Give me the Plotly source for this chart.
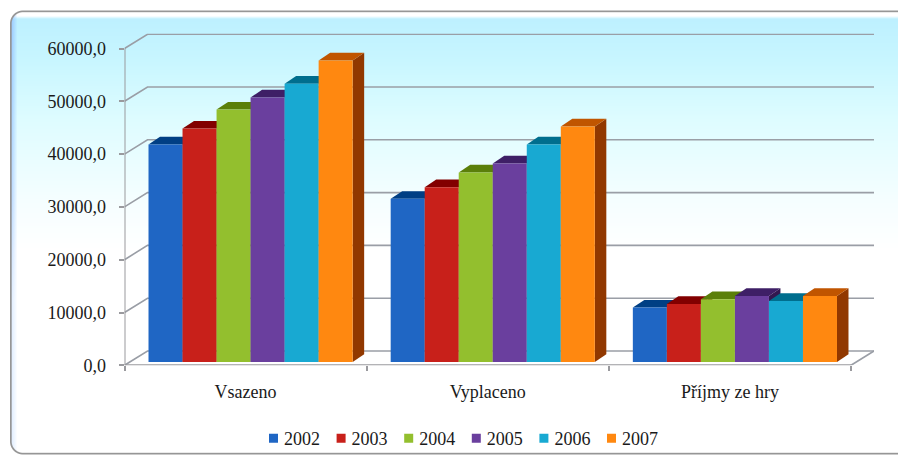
import base64, struct, zlib
import numpy as np
import plotly.graph_objects as go

categories = ["Vsazeno", "Vyplaceno", "Příjmy ze hry"]
years = ["2002", "2003", "2004", "2005", "2006", "2007"]
v2002 = [41200, 30900, 10300]
v2003 = [44200, 33100, 11000]
v2004 = [47800, 35900, 11900]
v2005 = [50100, 37600, 12500]
v2006 = [52700, 41200, 11550]
v2007 = [57100, 44600, 12500]
series = [v2002, v2003, v2004, v2005, v2006, v2007]
y_ticks = [0, 10000, 20000, 30000, 40000, 50000, 60000]
front = ["#1F66C4", "#C8201A", "#93BF2E", "#6A3F9E", "#18A9D2", "#FF8810"]
top = ["#003F84", "#820000", "#5B7F0A", "#3E1F66", "#006E8E", "#C05500"]
side = ["#003070", "#6E0000", "#4A6A05", "#321850", "#005A75", "#913800"]

W, H = 898, 456
L, R, T, B = 124.5, 874.0, 33.5, 365.3      # plot area on the page
PX_X = (851.0 - 124.5) / 3                  # pixels per category
PX_Y = (365.3 - 48.5) / 60000               # pixels per value unit
xmax = (R - L) / PX_X
ymax = (B - T) / PX_Y
wall_dx, wall_dy = (R - 851.0) / PX_X, (B - 351.0) / PX_Y
bar_dx, bar_dy = 11.5 / PX_X, 7.7 / PX_Y
shift_x, shift_y = 5.0 / PX_X, 3.3 / PX_Y   # bars stand inside the floor
bargap = 0.157
bar_w = (1 - bargap) / len(series)


def panel_png():
    yy, xx = np.mgrid[0:H, 0:W].astype(float)
    stops_y = [0, 18, 60, 120, 200, 250, 456]
    r = np.interp(yy, stops_y, [189, 189, 200, 222, 245, 255, 255])
    g = np.interp(yy, stops_y, [240, 240, 246, 252, 254, 255, 255])
    b = np.full_like(yy, 255.0)
    # bright bevel along the top
    band = np.clip((18.5 - yy) / 3, 0, 1)
    r, g = r + (255 - r) * band, g + (255 - g) * band
    # blue shade along the left edge
    edge = np.clip((17 - xx) / 7, 0, 1) * np.interp(yy, [10, 200, 300], [1, .75, .35])
    r = r + (150 - r) * edge * (yy > 14)
    g = g + (195 - g) * edge * (yy > 14)
    # rounded rectangle with grey rim; it runs off the right edge
    x0, y0, x1, y1, rad = 9.5, 10.0, 915.0, 454.0, 13.0
    qx = np.abs(xx - (x0 + x1) / 2) - ((x1 - x0) / 2 - rad)
    qy = np.abs(yy - (y0 + y1) / 2) - ((y1 - y0) / 2 - rad)
    d = np.hypot(np.maximum(qx, 0), np.maximum(qy, 0)) + np.minimum(np.maximum(qx, qy), 0) - rad
    rim = np.clip(d + 2.2, 0, 1)
    r, g, b = [c + (150 - c) * rim for c in (r, g, b)]
    alpha = np.clip(0.5 - d, 0, 1) * 255
    img = np.dstack([r, g, b, alpha]).round().astype(np.uint8)
    raw = b"".join(b"\x00" + img[i].tobytes() for i in range(H))

    def chunk(tag, data):
        return struct.pack(">I", len(data)) + tag + data + struct.pack(">I", zlib.crc32(tag + data))
    png = b"\x89PNG\r\n\x1a\n" + chunk(b"IHDR", struct.pack(">IIBBBBB", W, H, 8, 6, 0, 0, 0))
    png += chunk(b"IDAT", zlib.compress(raw, 9)) + chunk(b"IEND", b"")
    return "data:image/png;base64," + base64.b64encode(png).decode()


fig = go.Figure()

# walls, gridlines and floor
gx, gy = [], []
for v in y_ticks:
    gx += [0, wall_dx, xmax, None]
    gy += [v, v + wall_dy, v + wall_dy, None]
gx += [3, xmax]
gy += [0, wall_dy]
fig.add_trace(go.Scatter(x=gx, y=gy, mode="lines", line=dict(color="#9A9EA6", width=1.6),
                         hoverinfo="skip", showlegend=False))
fig.add_trace(go.Scatter(x=[0, 0, None, 0, 3], y=[60000, 0, None, 0, 0], mode="lines",
                         line=dict(color="#9A9A9E", width=2), hoverinfo="skip",
                         showlegend=False, cliponaxis=False))

# bar tops and sides, derived from the values
for g_i in range(len(categories)):
    for s_i, vals in enumerate(series):
        left = g_i + bargap / 2 + s_i * bar_w + shift_x
        right = left + bar_w
        v = vals[g_i] + shift_y
        fig.add_trace(go.Scatter(
            x=[right, right + bar_dx, right + bar_dx, right, right],
            y=[shift_y, shift_y + bar_dy, v + bar_dy, v, shift_y],
            fill="toself", fillcolor=side[s_i], mode="none",
            hoverinfo="skip", showlegend=False))
        fig.add_trace(go.Scatter(
            x=[left, left + bar_dx, right + bar_dx, right, left],
            y=[v, v + bar_dy, v + bar_dy, v, v],
            fill="toself", fillcolor=top[s_i], mode="none",
            hoverinfo="skip", showlegend=False))

# front faces, on an overlay axis pair
for s_i, vals in enumerate(series):
    fig.add_trace(go.Bar(x=[i + 0.5 for i in range(len(categories))], y=vals, name=years[s_i],
                         marker=dict(color=front[s_i], line=dict(width=0)),
                         xaxis="x2", yaxis="y2"))

FONT = "Liberation Serif"
x_dom = [L / W, R / W]
y_dom = [(H - B) / H, (H - T) / H]
fig.update_layout(
    width=W, height=H, autosize=False,
    margin=dict(l=0, r=0, t=0, b=0, pad=0, autoexpand=False),
    paper_bgcolor="rgba(0,0,0,0)", plot_bgcolor="rgba(0,0,0,0)",
    separators=", ",
    font=dict(family=FONT, size=18, color="#1A1A1A"),
    barmode="group", bargap=bargap, bargroupgap=0,
    xaxis=dict(domain=x_dom, range=[0, xmax], showgrid=False, zeroline=False, showline=False,
               tickmode="array", tickvals=[0.5, 1.5, 2.5], ticktext=categories,
               ticks="", ticklabelstandoff=14,
               minor=dict(tickmode="array", tickvals=[0, 1, 2, 3], ticks="outside",
                          ticklen=5, tickwidth=2, tickcolor="#9A9A9E", showgrid=False)),
    yaxis=dict(domain=y_dom, range=[0, ymax], showgrid=False, zeroline=False, showline=False,
               tickmode="array", tickvals=y_ticks, tickformat=".1f",
               ticks="outside", ticklen=5, tickwidth=2, tickcolor="#9A9A9E",
               ticklabelstandoff=9),
    xaxis2=dict(domain=x_dom, range=[-shift_x, xmax - shift_x], overlaying="x", visible=False),
    yaxis2=dict(domain=y_dom, range=[-shift_y, ymax - shift_y], overlaying="y", visible=False),
    legend=dict(orientation="h", x=253.5 / W, xanchor="left",
                y=1 - 380 / H, yanchor="top",
                entrywidth=22.6, entrywidthmode="pixels", traceorder="normal",
                bgcolor="rgba(0,0,0,0)", font=dict(size=18, family=FONT)),
    images=[dict(source=panel_png(), xref="paper", yref="paper",
                 x=0, y=1, sizex=1, sizey=1,
                 xanchor="left", yanchor="top", sizing="stretch", layer="below")],
)

tidy = """
document.body.style.margin='0';document.body.style.overflow='hidden';
document.querySelectorAll('.legend .legendtext').forEach(function(t){t.setAttribute('x','30.5');});
document.querySelectorAll('.legend path.legendbar, .legend .legendpoints path').forEach(function(p){p.setAttribute('d','M4.5,4.5H-4.5V-4.5H4.5Z');});
var lg=document.querySelector('.legend');
lg.setAttribute('transform', lg.getAttribute('transform')+' translate(0,40)');
"""
fig.write_html("out.html", config=dict(displayModeBar=False), post_script=tidy)
